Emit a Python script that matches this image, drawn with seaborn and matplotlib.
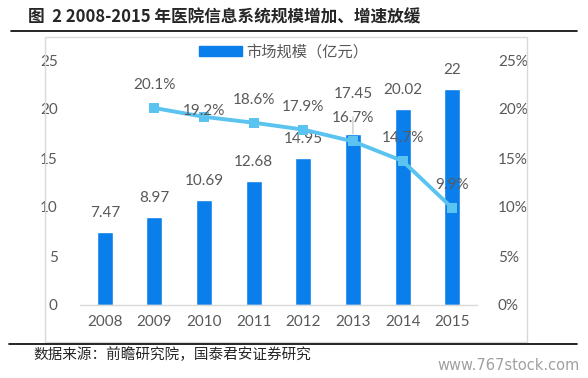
import matplotlib
matplotlib.use("Agg")
import matplotlib.pyplot as plt
import seaborn as sns
import pandas as pd
from matplotlib.patches import Rectangle
from matplotlib.lines import Line2D

years = ["2008", "2009", "2010", "2011", "2012", "2013", "2014", "2015"]
market_size = [7.47, 8.97, 10.69, 12.68, 14.95, 17.45, 20.02, 22]
growth_years = ["2009", "2010", "2011", "2012", "2013", "2014", "2015"]
growth_pct = [20.1, 19.2, 18.6, 17.9, 16.7, 14.7, 9.9]

left_ticks = [0, 5, 10, 15, 20, 25]
right_ticks = [0, 5, 10, 15, 20, 25]

title = "图  2 2008-2015 年医院信息系统规模增加、增速放缓"
legend_label = "市场规模（亿元）"
source = "数据来源：前瞻研究院，国泰君安证券研究"
watermark = "www.767stock.com"

bar_color = "#0A7EEB"
line_color = "#5BC3EF"
text_color = "#595959"

sns.set_theme(style="white")
plt.rcParams["font.family"] = ["Lato", "Noto Sans CJK SC", "DejaVu Sans"]

fig = plt.figure(figsize=(5.88, 3.78), dpi=100)
ax = fig.add_axes([80 / 588, 1 - 305 / 378, 397 / 588, 245 / 378])

df = pd.DataFrame({"year": years, "size": market_size})
sns.barplot(data=df, x="year", y="size", color=bar_color, width=0.32,
            saturation=1, ax=ax, order=years)
ax.set_ylim(0, 25)
ax.set_xlim(-0.5, len(years) - 0.5)
ax.set_yticks(left_ticks)
ax.set_xlabel("")
ax.set_ylabel("")
for name, s in ax.spines.items():
    s.set_visible(name == "bottom")
ax.spines["bottom"].set_color("#D9D9D9")
ax.spines["bottom"].set_linewidth(1)
ax.tick_params(axis="both", length=0, labelsize=11, labelcolor=text_color)
ax.tick_params(axis="x", pad=7)
ax.tick_params(axis="y", pad=16)

# bar labels (2013 label is lifted with a leader line, as in the original)
for i, v in enumerate(market_size):
    if years[i] == "2013":
        ax.annotate(f"{v:g}", (i, v), xytext=(0, 40), textcoords="offset pixels",
                    ha="center", va="center", fontsize=11, color=text_color,
                    arrowprops=dict(arrowstyle="-", color="#BFBFBF", lw=0.8,
                                    shrinkA=9, shrinkB=0))
    else:
        ax.annotate(f"{v:g}", (i, v), xytext=(0, 19), textcoords="offset pixels",
                    ha="center", va="center", fontsize=11, color=text_color)

ax2 = ax.twinx()
gdf = pd.DataFrame({"x": [years.index(y) for y in growth_years], "g": growth_pct})
sns.lineplot(data=gdf, x="x", y="g", color=line_color, linewidth=2.8,
             marker="s", markersize=7, markeredgewidth=0, ax=ax2)
ax2.set_ylim(0, 25)
ax2.set_xlim(-0.5, len(years) - 0.5)
ax2.set_yticks(right_ticks)
ax2.set_yticklabels([f"{t}%" for t in right_ticks])
ax2.set_ylabel("")
ax2.set_xlabel("")
for s in ax2.spines.values():
    s.set_visible(False)
ax2.tick_params(axis="y", length=0, labelsize=11, labelcolor=text_color, pad=15)

for x, yr, g in zip(gdf["x"], growth_years, growth_pct):
    dy = 6 if yr == "2010" else 23
    ax2.annotate(f"{g}%", (x, g), xytext=(0, dy), textcoords="offset pixels",
                 ha="center", va="center", fontsize=11, color=text_color)

handle = Rectangle((0, 0), 1, 1, color=bar_color)
leg = fig.legend([handle], [legend_label], loc="center", bbox_to_anchor=(0.482, 0.862),
                 frameon=False, fontsize=11, handlelength=2.8, handleheight=0.6,
                 handletextpad=0.3)
for t in leg.get_texts():
    t.set_color(text_color)

# chart box and rules
fig.patches.append(Rectangle((45 / 588, 1 - 342 / 378), 482 / 588, 305 / 378,
                             transform=fig.transFigure, fill=False,
                             edgecolor="#D9D9D9", linewidth=1))
fig.lines.append(Line2D([11 / 588, 577 / 588], [1 - 31 / 378, 1 - 31 / 378],
                        transform=fig.transFigure, color="black", linewidth=1.2))
fig.lines.append(Line2D([9 / 588, 577 / 588], [1 - 344 / 378, 1 - 344 / 378],
                        transform=fig.transFigure, color="black", linewidth=1.2))

fig.text(28 / 588, 1 - 17 / 378, title, fontsize=12, fontweight="bold",
         family=["Noto Sans CJK SC", "DejaVu Sans"], va="center", ha="left")
fig.text(33 / 588, 1 - 355 / 378, source, fontsize=10.5,
         family=["Noto Sans CJK SC", "DejaVu Sans"], va="center", ha="left")
fig.text(580 / 588, 1 - 366 / 378, watermark, fontsize=10.5, color="#A0A0A0",
         va="center", ha="right", family=["DejaVu Sans"])

fig.savefig("out.png", dpi=100)
